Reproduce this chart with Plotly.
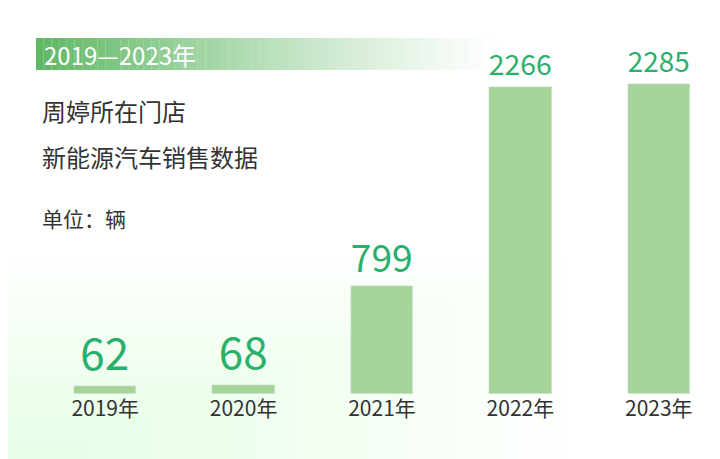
import plotly.graph_objects as go

years = ["2019年", "2020年", "2021年", "2022年", "2023年"]
sales = [62, 68, 799, 2266, 2285]

W, H = 720, 459
fig = go.Figure(go.Bar(
    x=years, y=sales, width=0.45, marker_color="#a6d498",
    text=[str(v) for v in sales], textposition="outside", cliponaxis=False,
    textfont=dict(size=44, color="#2bb06c", family="Noto Sans CJK SC"),
))

shapes = []
# soft green tint bottom-left
n = 25
for i in range(n):
    t = (i + 1) / n
    shapes.append(dict(type="rect", xref="paper", yref="paper", layer="below",
                       x0=0, x1=0.75 * (1 - i / n) + 0.05, y0=0, y1=0.45 * (1 - i / n) + 0.02,
                       fillcolor="rgba(210,235,210,0.025)", line_width=0))
# banner gradient
x0, x1 = 28 / W, 490 / W
m = 60
for i in range(m):
    t = i / m
    a = (1 - t) ** 1.2
    shapes.append(dict(type="rect", xref="paper", yref="paper",
                       x0=x0 + (x1 - x0) * t, x1=x0 + (x1 - x0) * (i + 1) / m,
                       y0=1 - 62 / H, y1=1 - 30 / H,
                       fillcolor=f"rgba(96,184,100,{a:.3f})", line_width=0))

ann = [
    dict(text="2019—2023年", x=34 / W, y=1 - 46 / H, xanchor="left", yanchor="middle",
         font=dict(size=24, color="white")),
    dict(text="周婷所在门店", x=32 / W, y=1 - 102 / H, xanchor="left", yanchor="middle",
         font=dict(size=24, color="#333333")),
    dict(text="新能源汽车销售数据", x=32 / W, y=1 - 148 / H, xanchor="left", yanchor="middle",
         font=dict(size=24, color="#333333")),
    dict(text="单位：辆", x=32 / W, y=1 - 210 / H, xanchor="left", yanchor="middle",
         font=dict(size=21, color="#333333")),
]
for a in ann:
    a.update(xref="paper", yref="paper", showarrow=False)
    a["font"]["family"] = "Noto Sans CJK SC"

fig.update_layout(
    width=W, height=H, margin=dict(l=0, r=0, t=0, b=0),
    paper_bgcolor="white", plot_bgcolor="rgba(0,0,0,0)",
    shapes=shapes, annotations=ann, showlegend=False,
    xaxis=dict(domain=[28 / W, 1], showgrid=False, showline=False, ticks="",
               tickfont=dict(size=21, color="#333333", family="Noto Sans CJK SC")),
    yaxis=dict(visible=False, range=[0, 2845], domain=[73 / H, 1]),
    bargap=0,
)
fig.write_html("out.html")
